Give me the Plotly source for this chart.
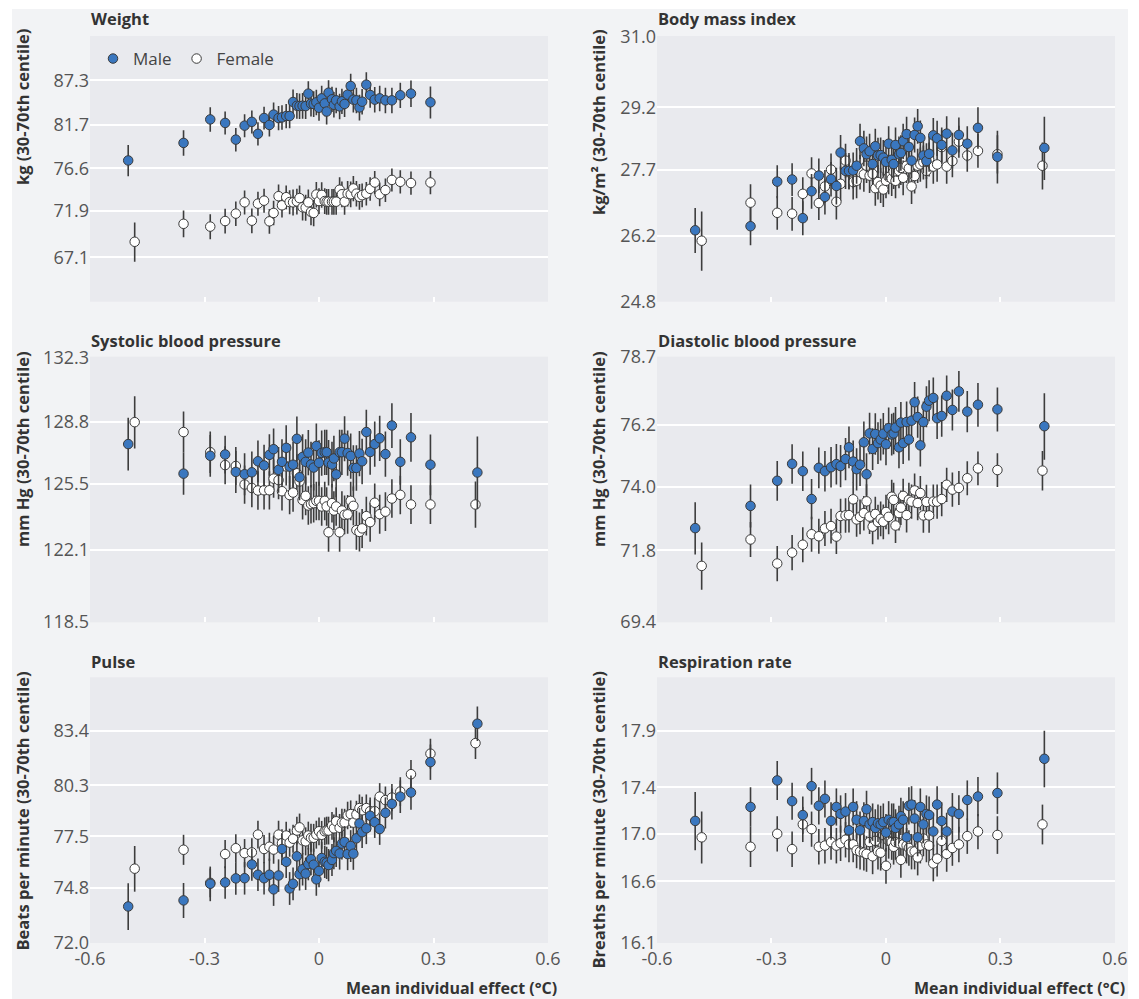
import math
import plotly.graph_objects as go
from plotly.subplots import make_subplots

# Mean individual effect (degrees C) for each group
X_MALE = [
    -0.500, -0.355, -0.285, -0.246, -0.218, -0.195, -0.176, -0.160, -0.144, -0.130,
    -0.119, -0.106, -0.097, -0.086, -0.077, -0.068, -0.058, -0.051, -0.043, -0.035,
    -0.028, -0.021, -0.014, -0.007, 0.000, 0.007, 0.015, 0.020, 0.025, 0.034,
    0.039, 0.045, 0.054, 0.060, 0.067, 0.075, 0.083, 0.090, 0.098, 0.106,
    0.113, 0.124, 0.134, 0.146, 0.159, 0.174, 0.191, 0.213, 0.241, 0.292,
    0.415,
]
X_FEMALE = [
    -0.483, -0.355, -0.285, -0.246, -0.218, -0.195, -0.176, -0.160, -0.144, -0.130,
    -0.119, -0.106, -0.097, -0.086, -0.077, -0.068, -0.058, -0.051, -0.043, -0.035,
    -0.028, -0.021, -0.014, -0.007, 0.000, 0.007, 0.015, 0.020, 0.025, 0.034,
    0.039, 0.045, 0.054, 0.060, 0.067, 0.075, 0.083, 0.090, 0.098, 0.106,
    0.113, 0.124, 0.134, 0.146, 0.159, 0.174, 0.191, 0.213, 0.241, 0.292,
    0.410,
]

# Weight (kg)
WEIGHT_MALE = [
    77.50, 79.55, 82.38, 81.95, 79.94, 81.62, 82.08, 80.63, 82.55, 81.70,
    82.97, 82.55, 82.63, 82.80, 82.80, 84.54, 84.07, 84.03, 84.07, 84.03,
    85.60, 84.33, 84.29, 84.50, 83.82, 85.00, 84.37, 83.35, 85.72, 84.88,
    84.20, 84.75, 83.99, 84.63, 84.29, 85.47, 86.58, 84.84, 84.75, 83.86,
    84.58, 86.75, 85.43, 84.84, 85.00, 84.75, 84.75, 85.39, 85.60, 84.50,
]
WEIGHT_MALE_ERR = [
    1.8, 1.5, 1.5, 1.4, 1.4, 1.4, 1.4, 1.4, 1.4, 1.4,
    1.5, 1.5, 1.5, 1.5, 1.5, 1.6, 1.6, 1.6, 1.6, 1.6,
    1.6, 1.6, 1.6, 1.6, 1.6, 1.6, 1.6, 1.6, 1.6, 1.6,
    1.6, 1.6, 1.6, 1.6, 1.6, 1.6, 1.6, 1.6, 1.6, 1.6,
    1.6, 1.6, 1.6, 1.6, 1.6, 1.6, 1.6, 1.6, 1.7, 2.0,
]
WEIGHT_FEMALE = [
    68.67, 70.53, 70.24, 70.82, 71.61, 72.82, 70.86, 72.68, 73.00, 70.79,
    71.68, 73.49, 72.50, 73.38, 72.85, 72.82, 72.92, 73.28, 72.29, 72.25,
    72.82, 71.79, 71.68, 73.67, 72.96, 73.63, 72.96, 72.89, 72.89, 72.89,
    72.89, 72.89, 74.20, 73.70, 72.89, 73.77, 73.70, 74.34, 73.77, 73.42,
    73.60, 73.77, 74.30, 75.00, 73.70, 74.16, 75.29, 75.08, 74.94, 75.00,
]
WEIGHT_FEMALE_ERR = [
    2.0, 1.4, 1.3, 1.3, 1.3, 1.3, 1.3, 1.3, 1.3, 1.3,
    1.3, 1.3, 1.3, 1.3, 1.3, 1.4, 1.4, 1.4, 1.4, 1.4,
    1.4, 1.4, 1.4, 1.4, 1.4, 1.4, 1.4, 1.4, 1.4, 1.4,
    1.4, 1.4, 1.4, 1.4, 1.4, 1.4, 1.4, 1.4, 1.4, 1.4,
    1.3, 1.3, 1.3, 1.3, 1.3, 1.3, 1.3, 1.3, 1.3, 1.3,
]

# Body mass index (kg/m2)
BMI_MALE = [
    26.33, 26.42, 27.43, 27.48, 26.60, 27.21, 27.57, 27.08, 27.49, 27.33,
    28.11, 27.68, 27.68, 27.69, 27.80, 28.38, 28.21, 28.07, 28.14, 27.84,
    28.26, 28.04, 28.05, 27.99, 27.89, 28.32, 27.94, 27.84, 28.29, 28.07,
    28.10, 28.38, 28.55, 28.24, 27.92, 28.53, 28.74, 28.46, 28.04, 27.91,
    28.08, 28.52, 28.45, 28.29, 28.56, 28.16, 28.53, 28.32, 28.70, 28.01,
    28.22,
]
BMI_MALE_ERR = [
    0.50, 0.42, 0.38, 0.38, 0.38, 0.40, 0.40, 0.40, 0.40, 0.42,
    0.42, 0.42, 0.42, 0.42, 0.42, 0.42, 0.42, 0.42, 0.42, 0.42,
    0.42, 0.42, 0.42, 0.42, 0.42, 0.42, 0.42, 0.42, 0.42, 0.42,
    0.42, 0.42, 0.42, 0.42, 0.42, 0.42, 0.42, 0.42, 0.42, 0.42,
    0.42, 0.42, 0.42, 0.42, 0.42, 0.42, 0.42, 0.42, 0.50, 0.62,
    0.75,
]
BMI_FEMALE = [
    26.10, 26.95, 26.72, 26.70, 27.15, 27.62, 26.94, 27.32, 27.71, 26.97,
    27.38, 27.92, 27.65, 27.42, 27.45, 27.65, 27.60, 27.80, 27.57, 27.61,
    27.28, 27.42, 27.34, 27.25, 27.45, 27.54, 27.50, 27.66, 27.45, 27.68,
    27.75, 27.52, 27.80, 27.74, 27.32, 27.56, 27.80, 27.83, 27.88, 27.68,
    27.95, 27.78, 27.83, 28.24, 27.78, 27.91, 28.37, 28.04, 28.15, 28.07,
    27.80,
]
BMI_FEMALE_ERR = [
    0.65, 0.42, 0.38, 0.38, 0.38, 0.38, 0.38, 0.38, 0.38, 0.40,
    0.40, 0.40, 0.40, 0.40, 0.40, 0.40, 0.40, 0.40, 0.40, 0.40,
    0.40, 0.40, 0.40, 0.40, 0.40, 0.40, 0.40, 0.40, 0.40, 0.40,
    0.40, 0.40, 0.40, 0.40, 0.40, 0.40, 0.40, 0.40, 0.40, 0.40,
    0.40, 0.40, 0.40, 0.40, 0.40, 0.38, 0.38, 0.38, 0.40, 0.45,
    0.55,
]

# Systolic blood pressure (mm Hg)
SBP_MALE = [
    127.60, 126.04, 126.98, 127.05, 126.13, 126.01, 126.11, 126.69, 126.47, 127.03,
    127.33, 126.24, 126.66, 127.40, 126.41, 126.51, 127.88, 125.85, 126.92, 126.66,
    127.15, 126.52, 126.36, 127.50, 126.61, 127.13, 127.17, 127.17, 126.62, 126.52,
    126.84, 126.00, 127.17, 127.17, 127.89, 127.13, 126.97, 126.34, 126.34, 127.10,
    126.69, 128.24, 127.18, 127.60, 127.91, 127.07, 128.59, 126.66, 127.96, 126.51,
    126.10,
]
SBP_MALE_ERR = [
    1.40, 1.10, 1.10, 1.00, 1.10, 1.10, 1.10, 1.10, 1.10, 1.10,
    1.10, 1.20, 1.20, 1.20, 1.20, 1.20, 1.20, 1.20, 1.20, 1.20,
    1.20, 1.20, 1.20, 1.20, 1.20, 1.20, 1.20, 1.20, 1.20, 1.20,
    1.20, 1.20, 1.20, 1.20, 1.20, 1.20, 1.20, 1.20, 1.20, 1.20,
    1.20, 1.20, 1.20, 1.20, 1.20, 1.20, 1.20, 1.20, 1.30, 1.60,
    1.90,
]
SBP_FEMALE = [
    128.77, 128.24, 127.17, 126.49, 126.44, 125.47, 125.29, 125.16, 125.17, 125.17,
    125.78, 125.70, 125.12, 126.42, 124.92, 125.05, 126.06, 125.63, 124.66, 124.88,
    124.38, 124.45, 124.50, 124.62, 124.62, 124.33, 124.62, 124.33, 123.00, 124.50,
    124.12, 124.33, 123.00, 124.12, 123.90, 123.92, 124.62, 124.36, 123.11, 123.02,
    123.20, 123.83, 123.52, 124.52, 123.93, 124.06, 124.74, 124.93, 124.43, 124.43,
    124.43,
]
SBP_FEMALE_ERR = [
    1.40, 1.10, 1.10, 1.00, 1.00, 1.00, 1.00, 1.00, 1.00, 1.00,
    1.00, 1.00, 1.00, 1.00, 1.00, 1.00, 1.00, 1.00, 1.00, 1.00,
    1.00, 1.00, 1.00, 1.00, 1.00, 1.00, 1.00, 1.00, 1.00, 1.00,
    1.00, 1.00, 1.00, 1.00, 1.00, 1.00, 1.00, 1.00, 1.00, 1.00,
    1.00, 1.00, 1.00, 1.00, 1.00, 1.00, 1.00, 1.00, 1.00, 1.00,
    1.20,
]

# Diastolic blood pressure (mm Hg)
DBP_MALE = [
    72.56, 73.33, 74.21, 74.81, 74.55, 73.57, 74.67, 74.55, 74.69, 74.80,
    74.73, 74.98, 75.40, 74.89, 74.62, 74.78, 75.58, 74.44, 75.90, 75.34,
    75.88, 75.55, 75.68, 75.89, 75.51, 76.09, 75.86, 75.90, 76.11, 75.40,
    76.29, 75.55, 76.31, 75.68, 76.36, 77.03, 76.49, 75.47, 76.31, 76.87,
    77.09, 77.19, 76.45, 76.53, 77.27, 76.75, 77.43, 76.69, 76.94, 76.77,
    76.16,
]
DBP_MALE_ERR = [
    0.90, 0.75, 0.70, 0.70, 0.70, 0.70, 0.72, 0.72, 0.72, 0.72,
    0.75, 0.75, 0.75, 0.75, 0.75, 0.75, 0.75, 0.75, 0.75, 0.75,
    0.75, 0.75, 0.75, 0.75, 0.75, 0.75, 0.75, 0.75, 0.75, 0.75,
    0.75, 0.75, 0.75, 0.75, 0.75, 0.75, 0.75, 0.75, 0.75, 0.75,
    0.75, 0.75, 0.75, 0.75, 0.75, 0.75, 0.75, 0.75, 0.80, 0.80,
    1.20,
]
DBP_FEMALE = [
    71.27, 72.17, 71.35, 71.72, 71.99, 72.35, 72.28, 72.55, 72.63, 72.27,
    72.98, 73.00, 73.01, 73.56, 72.86, 72.95, 73.08, 73.49, 72.96, 72.61,
    73.05, 72.77, 72.88, 72.78, 73.12, 72.95, 73.65, 73.54, 72.65, 73.08,
    73.27, 73.68, 73.01, 73.54, 73.48, 73.87, 73.43, 73.78, 73.00, 73.47,
    73.00, 73.48, 73.48, 73.57, 74.07, 73.90, 73.96, 74.30, 74.65, 74.59,
    74.57,
]
DBP_FEMALE_ERR = [
    0.80, 0.60, 0.60, 0.60, 0.60, 0.60, 0.60, 0.60, 0.60, 0.60,
    0.60, 0.60, 0.60, 0.60, 0.60, 0.60, 0.60, 0.60, 0.60, 0.60,
    0.60, 0.60, 0.60, 0.60, 0.60, 0.60, 0.60, 0.60, 0.60, 0.60,
    0.60, 0.60, 0.60, 0.60, 0.60, 0.60, 0.60, 0.60, 0.60, 0.60,
    0.60, 0.60, 0.60, 0.60, 0.60, 0.60, 0.60, 0.60, 0.60, 0.60,
    0.70,
]

# Pulse (beats per minute)
PULSE_MALE = [
    73.83, 74.14, 75.00, 75.07, 75.28, 75.29, 76.01, 75.47, 75.29, 75.47,
    74.71, 75.43, 76.83, 76.15, 74.76, 75.00, 76.44, 75.50, 75.76, 75.53,
    76.03, 76.29, 76.00, 75.23, 75.67, 76.35, 76.15, 76.10, 75.98, 76.25,
    76.61, 76.73, 76.59, 77.12, 77.21, 76.56, 76.99, 76.58, 77.40, 78.20,
    77.73, 77.94, 78.62, 78.27, 77.90, 78.78, 79.27, 79.67, 79.90, 81.60,
    83.80,
]
PULSE_MALE_ERR = [
    1.20, 0.90, 0.90, 0.85, 0.85, 0.85, 0.85, 0.85, 0.85, 0.85,
    0.85, 0.85, 0.85, 0.85, 0.85, 0.85, 0.85, 0.85, 0.85, 0.85,
    0.85, 0.85, 0.85, 0.85, 0.85, 0.85, 0.85, 0.85, 0.85, 0.85,
    0.85, 0.85, 0.85, 0.85, 0.85, 0.85, 0.85, 0.85, 0.85, 0.85,
    0.85, 0.85, 0.85, 0.85, 0.85, 0.85, 0.85, 0.90, 0.95, 1.00,
    1.00,
]
PULSE_FEMALE = [
    75.79, 76.79, 75.05, 76.56, 76.87, 76.61, 76.65, 77.60, 76.83, 76.95,
    76.80, 77.60, 77.14, 77.55, 77.17, 77.38, 77.82, 77.99, 77.29, 77.24,
    77.55, 77.43, 77.43, 77.60, 77.78, 77.59, 77.78, 77.82, 77.82, 78.08,
    77.94, 78.32, 77.97, 78.25, 78.25, 78.64, 78.71, 78.25, 78.69, 79.04,
    78.92, 79.04, 78.87, 78.87, 79.67, 79.48, 79.62, 79.95, 80.92, 82.08,
    82.68,
]
PULSE_FEMALE_ERR = [
    1.20, 0.80, 0.75, 0.75, 0.75, 0.75, 0.75, 0.75, 0.75, 0.75,
    0.75, 0.75, 0.75, 0.75, 0.75, 0.75, 0.75, 0.75, 0.75, 0.75,
    0.75, 0.75, 0.75, 0.75, 0.75, 0.75, 0.75, 0.75, 0.75, 0.75,
    0.75, 0.75, 0.75, 0.75, 0.75, 0.75, 0.75, 0.75, 0.75, 0.75,
    0.75, 0.75, 0.75, 0.75, 0.75, 0.75, 0.75, 0.80, 0.80, 0.85,
    0.90,
]

# Respiration rate (breaths per minute)
RESP_MALE = [
    17.11, 17.23, 17.46, 17.28, 17.16, 17.41, 17.24, 17.30, 17.11, 17.23,
    17.17, 17.19, 17.03, 17.23, 17.12, 17.03, 17.11, 17.21, 17.08, 17.10,
    17.05, 17.09, 17.08, 17.10, 17.01, 17.12, 17.10, 17.10, 17.05, 17.08,
    17.15, 17.12, 16.97, 17.24, 17.25, 17.13, 16.97, 17.23, 17.08, 17.17,
    17.16, 17.02, 17.25, 17.11, 17.02, 17.19, 17.17, 17.29, 17.32, 17.35,
    17.65,
]
RESP_MALE_ERR = [
    0.25, 0.17, 0.17, 0.16, 0.16, 0.16, 0.16, 0.16, 0.16, 0.16,
    0.16, 0.16, 0.16, 0.16, 0.16, 0.16, 0.16, 0.16, 0.16, 0.16,
    0.16, 0.16, 0.16, 0.16, 0.16, 0.16, 0.16, 0.16, 0.16, 0.16,
    0.16, 0.16, 0.16, 0.16, 0.16, 0.16, 0.16, 0.16, 0.16, 0.16,
    0.16, 0.16, 0.16, 0.16, 0.16, 0.16, 0.16, 0.17, 0.17, 0.18,
    0.25,
]
RESP_FEMALE = [
    16.97, 16.89, 17.00, 16.87, 17.08, 17.04, 16.89, 16.90, 16.93, 16.90,
    16.92, 16.95, 16.91, 16.91, 16.86, 16.85, 16.84, 16.83, 16.93, 16.81,
    16.94, 16.85, 16.84, 16.99, 16.73, 16.94, 16.93, 16.89, 16.93, 16.92,
    16.78, 16.91, 16.90, 16.88, 16.85, 16.85, 16.80, 16.90, 16.96, 16.91,
    16.90, 16.75, 16.79, 16.94, 16.83, 16.88, 16.91, 16.98, 17.02, 16.99,
    17.08,
]
RESP_FEMALE_ERR = [
    0.22, 0.17, 0.15, 0.15, 0.15, 0.15, 0.15, 0.15, 0.15, 0.15,
    0.15, 0.15, 0.15, 0.15, 0.15, 0.15, 0.15, 0.15, 0.15, 0.15,
    0.15, 0.15, 0.15, 0.15, 0.15, 0.15, 0.15, 0.15, 0.15, 0.15,
    0.15, 0.15, 0.15, 0.15, 0.15, 0.15, 0.15, 0.15, 0.15, 0.15,
    0.15, 0.15, 0.15, 0.15, 0.15, 0.15, 0.15, 0.15, 0.15, 0.16,
    0.17,
]

# Tick labels on the (log) y axes
WEIGHT_TICKS = [67.1, 71.9, 76.6, 81.7, 87.3]
BMI_TICKS = [24.8, 26.2, 27.7, 29.2, 31.0]
SBP_TICKS = [118.5, 122.1, 125.5, 128.8, 132.3]
DBP_TICKS = [69.4, 71.8, 74.0, 76.2, 78.7]
PULSE_TICKS = [72.0, 74.8, 77.5, 80.3, 83.4]
RESP_TICKS = [16.1, 16.6, 17.0, 17.4, 17.9]
X_TICKS = [-0.6, -0.3, 0, 0.3, 0.6]

panels = [
    ("Weight", "kg (30-70th centile)", WEIGHT_TICKS, (62.83, 93.24),
     WEIGHT_MALE, WEIGHT_MALE_ERR, WEIGHT_FEMALE, WEIGHT_FEMALE_ERR),
    ("Body mass index", "kg/m² (30-70th centile)", BMI_TICKS, (24.8, 31.0),
     BMI_MALE, BMI_MALE_ERR, BMI_FEMALE, BMI_FEMALE_ERR),
    ("Systolic blood pressure", "mm Hg (30-70th centile)", SBP_TICKS, (118.5, 132.3),
     SBP_MALE, SBP_MALE_ERR, SBP_FEMALE, SBP_FEMALE_ERR),
    ("Diastolic blood pressure", "mm Hg (30-70th centile)", DBP_TICKS, (69.4, 78.7),
     DBP_MALE, DBP_MALE_ERR, DBP_FEMALE, DBP_FEMALE_ERR),
    ("Pulse", "Beats per minute (30-70th centile)", PULSE_TICKS, (72.0, 86.52),
     PULSE_MALE, PULSE_MALE_ERR, PULSE_FEMALE, PULSE_FEMALE_ERR),
    ("Respiration rate", "Breaths per minute (30-70th centile)", RESP_TICKS, (16.1, 18.38),
     RESP_MALE, RESP_MALE_ERR, RESP_FEMALE, RESP_FEMALE_ERR),
]

# Geometry: the page body adds an 8px offset, so the figure is 8px smaller
OFF = 8
W, H = 1139 - OFF, 999 - OFF
ML, MT = 90 - OFF, 36 - OFF
MR, MB = W - (1115 - OFF), H - (943 - OFF)
FONT = "Open Sans"
PAPER = "#f2f3f5"
PLOT = "#e9eaee"
BLUE = "#3a77bf"
EDGE = "#3a3a3a"


def fx(px):
    # screen pixel -> paper x
    return (px - OFF - ML) / (W - ML - MR)


def fy(py):
    # screen pixel -> paper y
    return (H - MB - (py - OFF)) / (H - MT - MB)


fig = make_subplots(rows=3, cols=2, horizontal_spacing=0.1063, vertical_spacing=0.0606)

for i, (title, ytitle, ticks, yr, male, male_err, female, female_err) in enumerate(panels):
    row, col = i // 2 + 1, i % 2 + 1
    first = i == 0
    fig.add_trace(
        go.Scatter(
            x=X_FEMALE[:len(female)],
            y=female,
            mode="markers",
            name="Female",
            legendrank=2,
            showlegend=first,
            marker=dict(size=9.5, color="white", line=dict(color=EDGE, width=1)),
            error_y=dict(type="data", array=female_err, color="#3d3d3d", thickness=1.6, width=0),
            hoverinfo="x+y",
        ),
        row=row, col=col,
    )
    fig.add_trace(
        go.Scatter(
            x=X_MALE[:len(male)],
            y=male,
            mode="markers",
            name="Male",
            legendrank=1,
            showlegend=first,
            marker=dict(size=9.5, color=BLUE, line=dict(color=EDGE, width=1)),
            error_y=dict(type="data", array=male_err, color="#3d3d3d", thickness=1.6, width=0),
            hoverinfo="x+y",
        ),
        row=row, col=col,
    )
    eps = 1e-4
    fig.update_yaxes(
        type="log",
        range=[math.log10(yr[0]) - eps, math.log10(yr[1]) + eps],
        tickvals=ticks,
        ticktext=[f"{t:.1f}" for t in ticks],
        showgrid=True, gridcolor="white", gridwidth=2,
        zeroline=False, showline=False, ticks="",
        tickfont=dict(family=FONT, size=18, color="#555555"),
        row=row, col=col,
    )
    fig.update_xaxes(
        range=[-0.6001, 0.6001],
        tickvals=X_TICKS,
        ticktext=["-0.6", "-0.3", "0", "0.3", "0.6"],
        showgrid=False, zeroline=False, showline=False,
        ticks="inside", ticklen=5, tickwidth=2, tickcolor="white",
        showticklabels=(row == 3), ticklabelstandoff=3,
        tickfont=dict(family=FONT, size=18, color="#555555"),
        row=row, col=col,
    )

    # panel title and y axis title
    left_px = 90 if col == 1 else 657
    title_y = [18, 340, 661][row - 1]
    ytitle_x = 22 if col == 1 else 598
    ytitle_top = [28, 350, 671][row - 1]
    fig.add_annotation(
        text=f"<b>{title}</b>", xref="paper", yref="paper",
        x=fx(left_px), y=fy(title_y), xanchor="left", yanchor="middle",
        showarrow=False, borderpad=0, font=dict(family=FONT, size=16.5, color="#333333"),
    )
    fig.add_annotation(
        text=f"<b>{ytitle}</b>", xref="paper", yref="paper",
        x=fx(ytitle_x), y=fy(ytitle_top), xanchor="center", yanchor="top",
        textangle=-90, showarrow=False, borderpad=0,
        font=dict(family=FONT, size=16.5, color="#333333"),
    )
    if row == 3:
        fig.add_annotation(
            text="<b>Mean individual effect (°C)</b>", xref="paper", yref="paper",
            x=fx(558 if col == 1 else 1126), y=fy(988), xanchor="right", yanchor="middle",
            showarrow=False, borderpad=0, font=dict(family=FONT, size=16, color="#333333"),
        )

# white frame around the grey panel background
for x0, x1, y0, y1 in [(0, 1139, 0, 9), (0, 12, 0, 999), (1128, 1139, 0, 999)]:
    fig.add_shape(
        type="rect", xref="paper", yref="paper",
        x0=fx(x0), x1=fx(x1), y0=fy(y1), y1=fy(y0),
        fillcolor="white", line=dict(width=0), layer="above",
    )

fig.update_layout(
    width=W,
    height=H,
    margin=dict(l=ML, r=MR, t=MT, b=MB),
    paper_bgcolor=PAPER,
    plot_bgcolor=PLOT,
    font=dict(family=FONT, color="#444444"),
    showlegend=True,
    legend=dict(
        orientation="h", x=fx(93), y=fy(41), xanchor="left", yanchor="top",
        bgcolor="rgba(0,0,0,0)", font=dict(family=FONT, size=17, color="#444444"),
        itemsizing="trace",
    ),
)

fig.write_html("out.html")
